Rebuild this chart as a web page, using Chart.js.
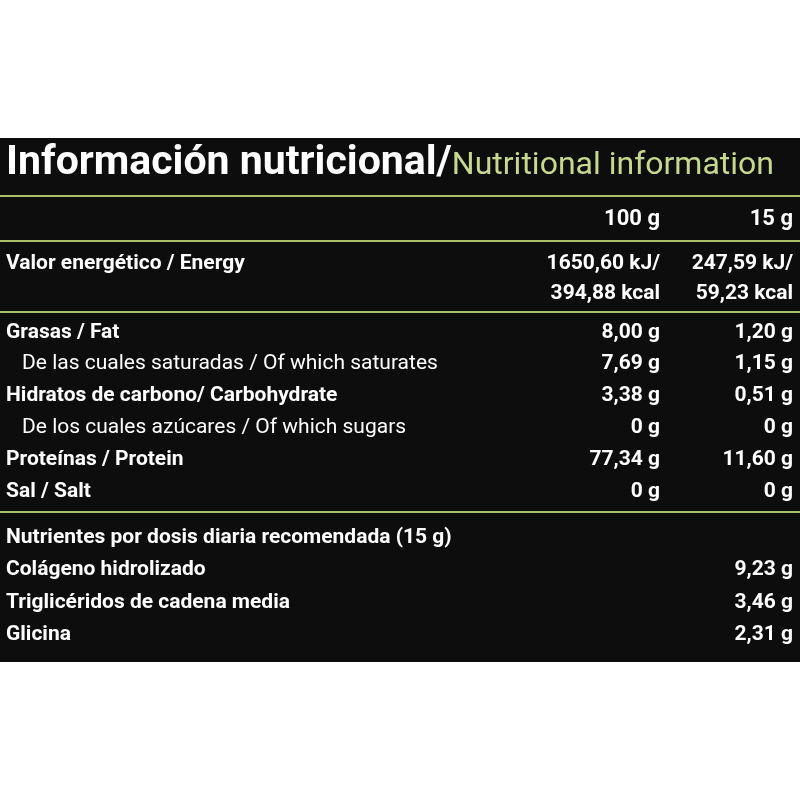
<!DOCTYPE html>
<html><head><meta charset="utf-8">
<script src="https://cdn.jsdelivr.net/npm/chart.js@4"></script>
<style>body{margin:0;background:#fff}</style>
</head><body>
<canvas id="chart" width="800" height="800"></canvas>
<script>
// Nutrition facts table drawn by a Chart.js plugin on hidden linear scales
const titleEs = 'Información nutricional/';
const titleEn = 'Nutritional information';
const columns = ['100 g', '15 g'];

const rowLabels = [
  'Valor energético / Energy', '',
  'Grasas / Fat', 'De las cuales saturadas / Of which saturates',
  'Hidratos de carbono/ Carbohydrate', 'De los cuales azúcares / Of which sugars',
  'Proteínas / Protein', 'Sal / Salt'
];
const per100 = ['1650,60 kJ/', '394,88 kcal', '8,00 g', '7,69 g', '3,38 g', '0 g', '77,34 g', '0 g'];
const per15  = ['247,59 kJ/', '59,23 kcal', '1,20 g', '1,15 g', '0,51 g', '0 g', '11,60 g', '0 g'];
const boldRow = [true, false, true, false, true, false, true, true];
const rowY   = [264, 294, 333, 364, 396, 428, 460, 492];

const dailyHeader = 'Nutrientes por dosis diaria recomendada (15 g)';
const dailyLabels = ['Colágeno hidrolizado', 'Triglicéridos de cadena media', 'Glicina'];
const dailyValues = ['9,23 g', '3,46 g', '2,31 g'];
const dailyY = [538, 570, 603, 635];

const FONT = '"Liberation Sans Narrow", "Roboto", sans-serif';
const GREEN = '#c5d88e';

const tablePlugin = {
  id: 'table',
  afterDraw(chart) {
    const c = chart.ctx, x = chart.scales.x, y = chart.scales.y;
    const X = v => x.getPixelForValue(v), Y = v => y.getPixelForValue(v);
    c.save();
    c.fillStyle = '#0d0d0d';
    c.fillRect(X(0), Y(138), X(800) - X(0), Y(662) - Y(138));
    c.textBaseline = 'middle';
    // title
    c.font = 'bold 41px ' + FONT;
    c.fillStyle = '#fff';
    c.textAlign = 'left';
    c.fillText(titleEs, X(6), Y(164));
    const w = c.measureText(titleEs).width;
    c.font = '32px ' + FONT;
    c.fillStyle = GREEN;
    c.fillText(titleEn, X(6) + w, Y(166));
    // separators
    c.strokeStyle = '#a9bf6a';
    c.lineWidth = 2;
    [196, 241, 312, 512].forEach(v => {
      c.beginPath(); c.moveTo(X(0), Y(v)); c.lineTo(X(800), Y(v)); c.stroke();
    });
    // column headers
    c.fillStyle = '#fff';
    c.font = 'bold 22px ' + FONT;
    c.textAlign = 'right';
    c.fillText(columns[0], X(660), Y(219));
    c.fillText(columns[1], X(793), Y(219));
    // rows
    rowLabels.forEach((lab, i) => {
      c.textAlign = 'left';
      c.font = (boldRow[i] ? 'bold ' : '') + '21px ' + FONT;
      c.fillText(lab, X(boldRow[i] ? 6 : 22), Y(rowY[i]));
      c.font = 'bold 21px ' + FONT;
      c.textAlign = 'right';
      c.fillText(per100[i], X(660), Y(rowY[i]));
      c.fillText(per15[i], X(793), Y(rowY[i]));
    });
    c.textAlign = 'left';
    c.font = 'bold 21px ' + FONT;
    c.fillText(dailyHeader, X(6), Y(dailyY[0]));
    dailyLabels.forEach((lab, i) => {
      c.textAlign = 'left';
      c.fillText(lab, X(6), Y(dailyY[i + 1]));
      c.textAlign = 'right';
      c.fillText(dailyValues[i], X(793), Y(dailyY[i + 1]));
    });
    c.restore();
  }
};

new Chart(document.getElementById('chart').getContext('2d'), {
  type: 'scatter',
  data: { datasets: [{ data: [] }] },
  options: {
    responsive: false,
    animation: false,
    layout: { padding: 0 },
    plugins: { legend: { display: false }, tooltip: { enabled: false } },
    scales: {
      x: { type: 'linear', min: 0, max: 800, display: false },
      y: { type: 'linear', min: 0, max: 800, reverse: true, display: false }
    }
  },
  plugins: [tablePlugin]
});
</script>
</body></html>
